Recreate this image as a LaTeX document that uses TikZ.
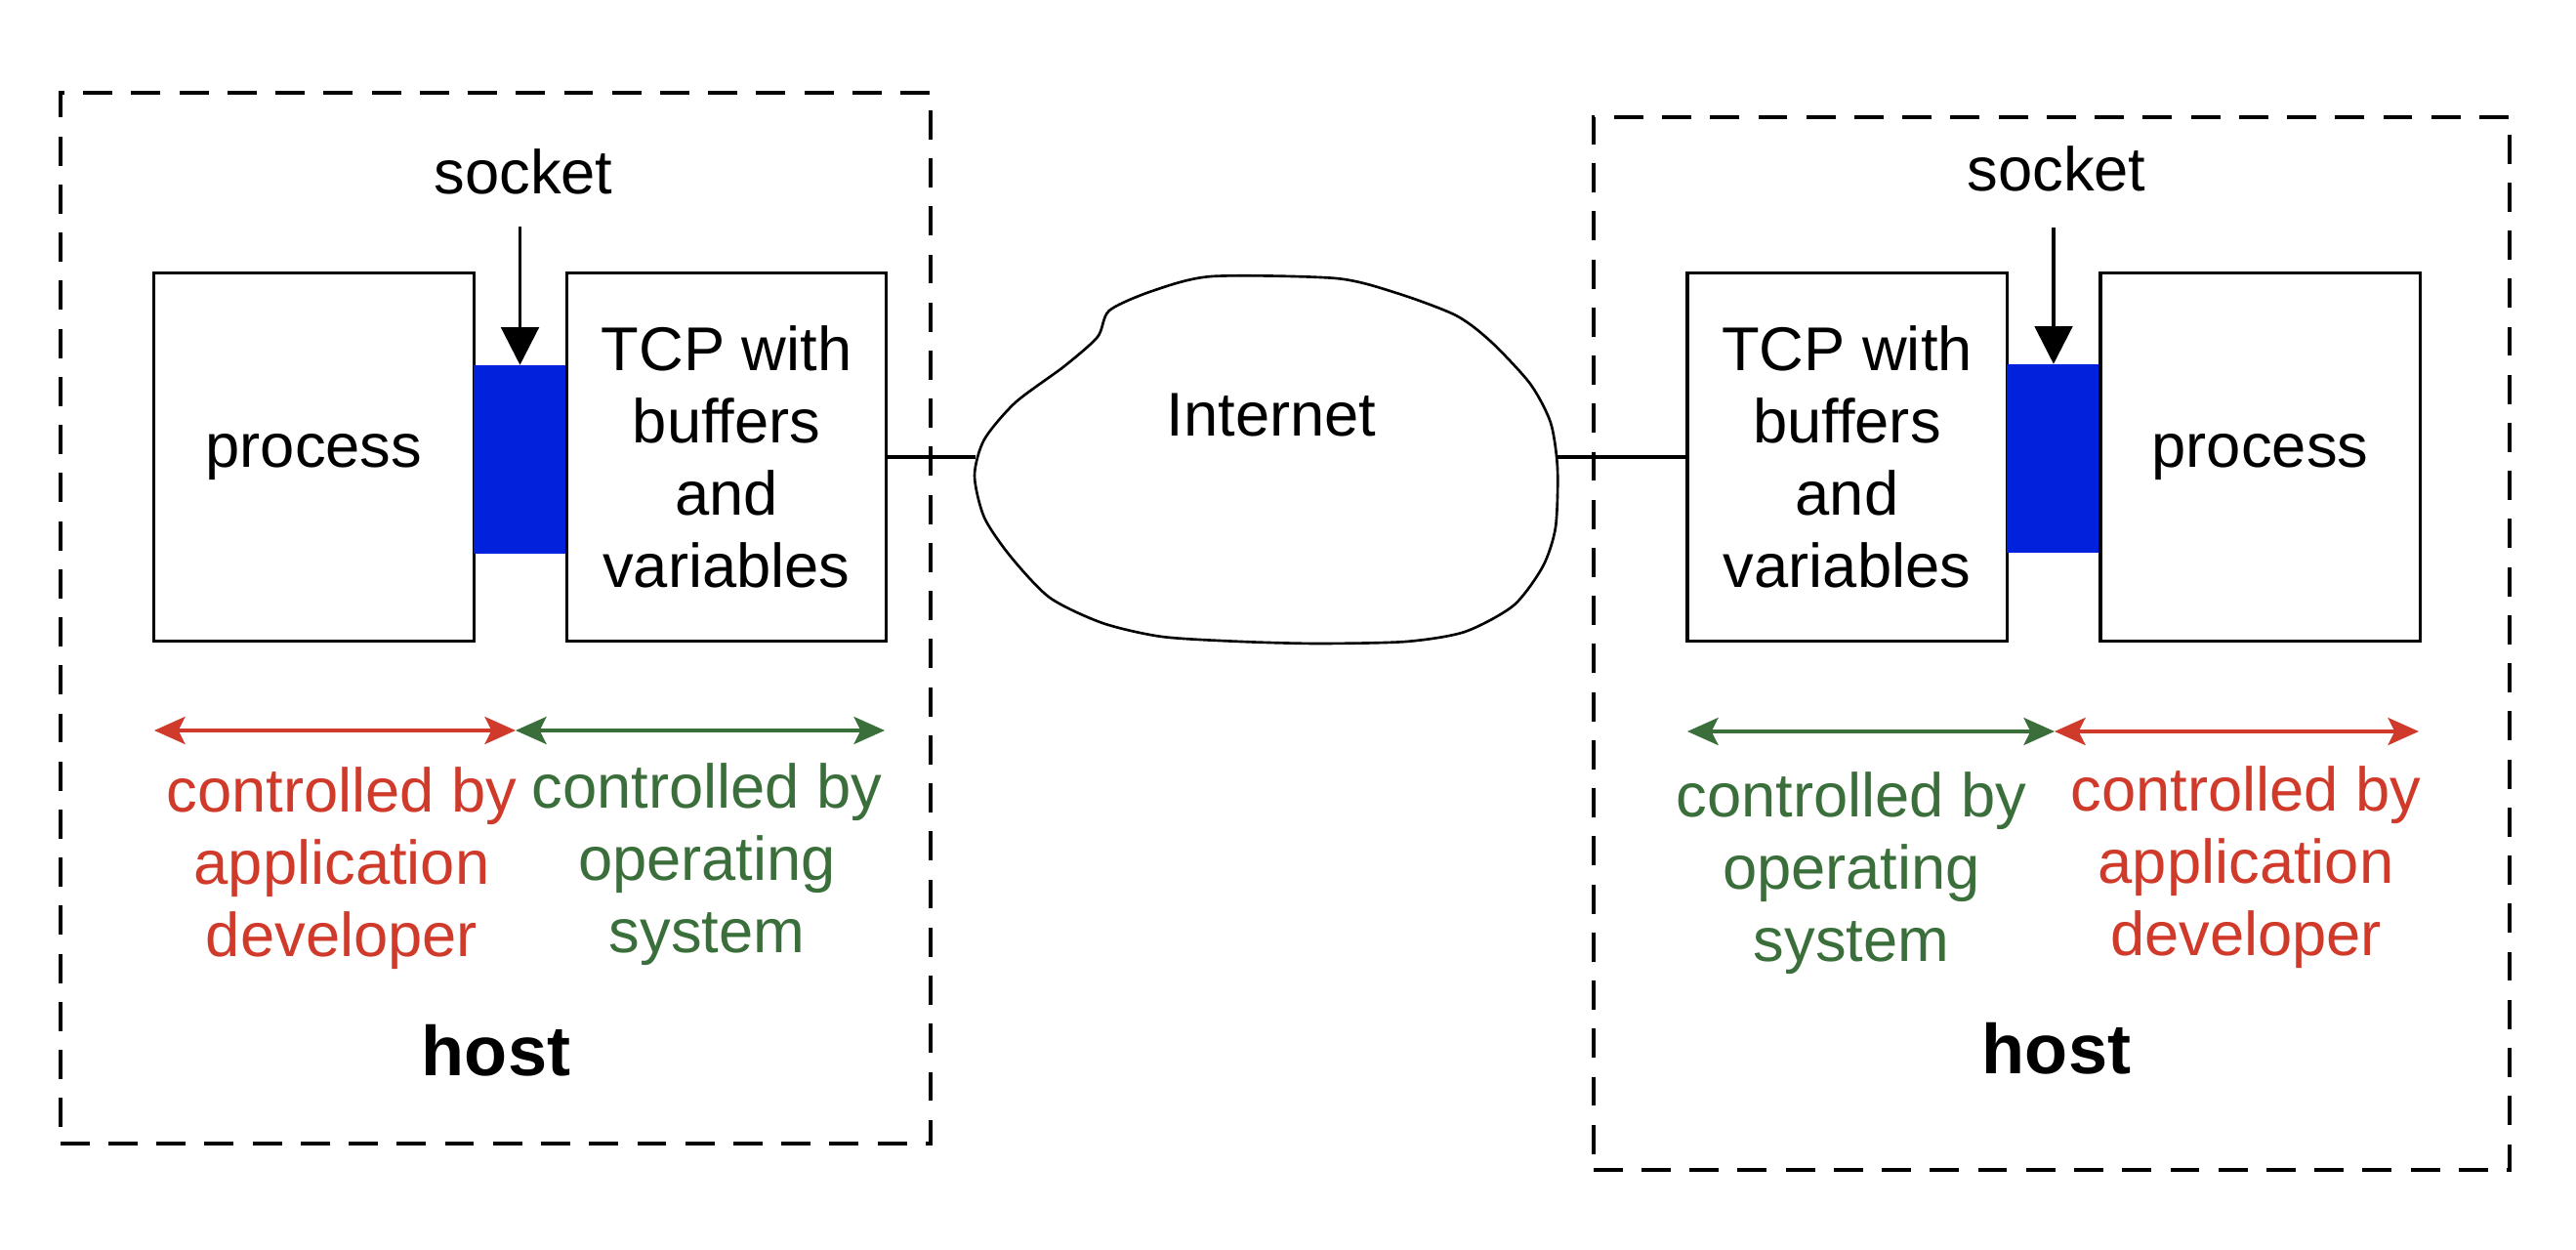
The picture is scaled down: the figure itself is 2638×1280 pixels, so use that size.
\documentclass[tikz,border=0pt]{standalone}
\usepackage{fontspec}
\setmainfont{Liberation Sans}
\usetikzlibrary{arrows.meta,calc}
\definecolor{ctrlred}{HTML}{D03A2A}
\definecolor{ctrlgreen}{HTML}{3A6E3A}
\definecolor{sockblue}{HTML}{0022DD}
\begin{document}
\begin{tikzpicture}[x=0.01cm,y=-0.01cm,
  box/.style={draw,line width=0.9pt,minimum width=3.27cm,minimum height=3.76cm,inner sep=0pt,align=center,font=\fontsize{18pt}{21pt}\selectfont},
  hostbox/.style={draw,line width=1.1pt,dash pattern=on 8.5pt off 5.5pt,inner sep=0pt},
  sockbox/.style={fill=sockblue,inner sep=0pt,minimum width=0.95cm,minimum height=1.92cm},
  lbl/.style={font=\fontsize{18pt}{21pt}\selectfont,inner sep=0pt,anchor=base},
  ctl/.style={font=\fontsize{18pt}{21pt}\selectfont,inner sep=0pt,align=center,anchor=north},
  hostlbl/.style={font=\bfseries\fontsize{20.5pt}{24pt}\selectfont,inner sep=0pt,anchor=base},
  sockarrow/.style={-{Triangle[length=11pt,width=11pt]},line width=0.9pt},
  ctlarrow/.style={{Stealth[length=9pt,width=8pt,inset=2pt]}-{Stealth[length=9pt,width=8pt,inset=2pt]},line width=0.9pt},
  cloudline/.style={line width=0.75pt},
  link/.style={line width=0.9pt}]
\useasboundingbox (0,0) rectangle (2638,1280);

% host boxes
\node[hostbox,minimum width=8.91cm,minimum height=10.76cm] (hostL) at (507.5,633) {};
\node[hostbox,minimum width=9.38cm,minimum height=10.78cm] (hostR) at (2101,659) {};

% left host
\node[box] (procL) at (321.5,468) {process};
\node[sockbox] (sockL) at (532.5,470.5) {};
\node[box] (tcpL) at (744,468) {TCP with\\buffers\\and\\variables};
\node[lbl] (sockLtxt) at (536,199) {socket};
\draw[sockarrow] ($(sockL.north |- sockLtxt.south)+(0,32)$) -- (sockL.north);

% right host
\node[box] (tcpR) at (1891.5,468) {TCP with\\buffers\\and\\variables};
\node[sockbox,minimum width=0.96cm] (sockR) at (2103,469.5) {};
\node[box] (procR) at (2314.5,468) {process};
\node[lbl] (sockRtxt) at (2106,196) {socket};
\draw[sockarrow] ($(sockR.north |- sockRtxt.south)+(0,36)$) -- (sockR.north);

% Internet cloud
\draw[cloudline] plot[smooth cycle,tension=0.45] coordinates {
  (1241,283) (1368,285) (1430,300) (1491,323) (1527,350) (1567,393) (1588,433)
  (1595,480) (1593,540) (1580,580) (1550,620) (1500,647) (1440,657) (1350,659)
  (1271,657) (1190,652) (1129,638) (1075,612) (1035,570) (1008,530) (998,487)
  (1008,450) (1040,412) (1090,375) (1124,345) (1136,318) (1180,298)};
\node[lbl] (inet) at (1302,447) {Internet};
\coordinate (cloudW) at (999,468);
\coordinate (cloudE) at (1594,468);
\draw[link] (tcpL.east) -- (cloudW);
\draw[link] (cloudE) -- (tcpR.west);

% control arrows left
\coordinate (aL1) at (158,748);
\coordinate (aL2) at (528,748);
\coordinate (aL3) at (906,748);
\draw[ctlarrow,ctrlred] (aL1) -- (aL2);
\draw[ctlarrow,ctrlgreen] (aL2) -- (aL3);
\node[ctl,text=ctrlred] (appL) at (350,785) {controlled by\\application\\developer};
\node[ctl,text=ctrlgreen] (osL) at (724,781) {controlled by\\operating\\system};
\node[hostlbl] (hostLtxt) at (508,1102) {host};

% control arrows right
\coordinate (aR1) at (1728,749);
\coordinate (aR2) at (2104,749);
\coordinate (aR3) at (2477,749);
\draw[ctlarrow,ctrlgreen] (aR1) -- (aR2);
\draw[ctlarrow,ctrlred] (aR2) -- (aR3);
\node[ctl,text=ctrlgreen] (osR) at (1896,790) {controlled by\\operating\\system};
\node[ctl,text=ctrlred] (appR) at (2300,784) {controlled by\\application\\developer};
\node[hostlbl] (hostRtxt) at (2106,1100) {host};
\end{tikzpicture}
\end{document}
